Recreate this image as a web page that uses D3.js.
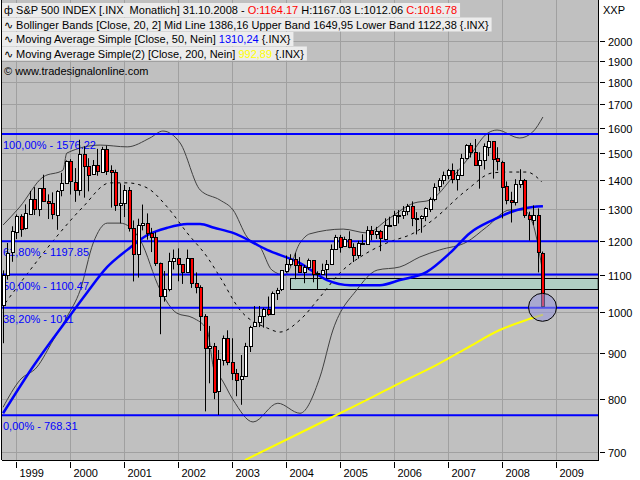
<!DOCTYPE html>
<html><head><meta charset="utf-8">
<script src="https://cdn.jsdelivr.net/npm/d3@7"></script>
<style>body{margin:0;background:#fff}svg{display:block}text{font-family:"Liberation Sans",Arial,sans-serif;font-size:11px}</style>
</head><body><svg id="c" width="640" height="480"></svg>
<script>
// Monthly candles Oct 1998 .. Oct 2008
const startYear = 1998.75;
const opens = [1017.1,1098.7,1163.6,1229.2,1279.6,1238.3,1286.4,1335.2,1301.8,1372.7,1328.7,1320.4,1282.7,1362.9,1388.9,
1469.3,1394.5,1366.4,1498.6,1452.4,1420.6,1454.6,1430.8,1517.7,1436.5,1429.4,1315.0,
1320.3,1366.0,1239.9,1160.3,1249.5,1255.8,1224.4,1211.2,1133.6,1040.9,1059.8,1139.5,
1148.1,1130.2,1106.7,1147.4,1076.9,1067.1,989.8,911.6,916.1,815.3,885.8,936.3,
879.8,855.7,841.2,848.2,916.9,963.6,974.5,990.3,1008.0,996.0,1050.7,1058.2,
1111.9,1131.1,1144.9,1126.2,1107.3,1120.7,1140.8,1101.7,1104.2,1114.6,1130.2,1173.8,
1211.9,1181.3,1203.6,1180.6,1156.9,1191.5,1191.3,1234.2,1220.3,1228.8,1207.0,1249.5,
1248.3,1280.1,1280.7,1294.9,1310.6,1270.1,1270.2,1276.7,1303.8,1335.9,1377.9,1400.6,
1418.3,1438.2,1406.8,1420.9,1482.4,1530.6,1503.4,1455.3,1474.0,1526.8,1549.4,1481.1,
1468.4,1378.6,1330.6,1322.7,1385.6,1400.4,1280.0,1267.4,1282.8,1164.17];
const highs = [1112.2,1193.0,1244.9,1283.0,1283.7,1316.6,1362.8,1375.9,1372.9,1420.3,1350.7,1357.7,1365.6,1427.0,1473.1,
1478.0,1444.5,1552.9,1527.2,1481.5,1474.6,1517.3,1525.2,1530.1,1454.8,1438.5,1389.1,
1383.4,1376.4,1263.5,1269.3,1316.0,1286.6,1239.8,1226.3,1134.6,1110.6,1163.4,1173.0,
1176.6,1130.2,1173.0,1147.8,1106.6,1070.7,994.5,965.0,924.0,907.4,941.8,954.3,
935.1,864.6,895.9,924.2,965.4,1015.3,1015.4,1011.0,1040.3,1053.8,1063.7,1112.0,
1155.4,1159.0,1163.2,1150.6,1127.7,1146.3,1140.8,1109.7,1131.5,1142.1,1188.5,1217.9,
1217.8,1212.4,1229.1,1191.9,1199.6,1219.6,1245.2,1245.9,1243.1,1233.3,1270.6,1275.8,
1294.9,1297.6,1310.9,1318.2,1326.7,1290.7,1280.4,1306.7,1340.3,1389.5,1407.9,1431.8,
1441.6,1461.6,1438.9,1498.0,1535.6,1540.6,1555.9,1503.9,1538.7,1576.1,1545.8,1523.6,
1471.8,1396.0,1359.7,1404.0,1440.2,1405.0,1292.2,1313.2,1303.0,1167.03];
const lows = [923.3,1086.0,1136.9,1205.0,1211.9,1234.7,1282.6,1281.4,1277.5,1328.5,1268.3,1267.5,1233.7,1344.0,1387.4,
1350.1,1325.1,1346.6,1339.4,1361.1,1420.6,1416.5,1428.1,1419.4,1305.8,1294.9,1254.1,
1274.6,1228.3,1081.2,1091.9,1232.0,1203.0,1165.5,1124.9,944.8,1026.8,1054.3,1114.9,
1081.7,1074.4,1106.7,1063.5,1048.9,952.9,775.7,833.4,800.2,768.6,872.1,872.9,
840.3,806.3,788.9,847.9,902.8,963.6,962.1,960.8,990.4,996.0,1031.2,1055.0,
1105.1,1124.4,1087.2,1107.2,1076.3,1113.3,1078.8,1060.7,1101.3,1090.2,1127.6,1173.8,
1163.8,1180.9,1176.9,1136.2,1146.2,1188.3,1191.3,1201.1,1205.4,1168.2,1201.1,1246.6,
1245.7,1253.6,1268.4,1280.7,1245.3,1219.3,1224.5,1261.3,1290.9,1327.1,1361.0,1385.9,
1404.0,1389.4,1364.0,1416.4,1476.7,1484.2,1454.3,1370.6,1439.3,1489.6,1406.1,1435.7,
1270.1,1316.8,1257.0,1312.8,1373.1,1272.0,1200.4,1248.6,1106.4,1012.06];
const closes = [1098.7,1163.6,1229.2,1279.6,1238.3,1286.4,1335.2,1301.8,1372.7,1328.7,1320.4,1282.7,1362.9,1388.9,1469.3,
1394.5,1366.4,1498.6,1452.4,1420.6,1454.6,1430.8,1517.7,1436.5,1429.4,1315.0,1320.3,
1366.0,1239.9,1160.3,1249.5,1255.8,1224.4,1211.2,1133.6,1040.9,1059.8,1139.5,1148.1,
1130.2,1106.7,1147.4,1076.9,1067.1,989.8,911.6,916.1,815.3,885.8,936.3,879.8,
855.7,841.2,848.2,916.9,963.6,974.5,990.3,1008.0,996.0,1050.7,1058.2,1111.9,
1131.1,1144.9,1126.2,1107.3,1120.7,1140.8,1101.7,1104.2,1114.6,1130.2,1173.8,1211.9,
1181.3,1203.6,1180.6,1156.9,1191.5,1191.3,1234.2,1220.3,1228.8,1207.0,1249.5,1248.3,
1280.1,1280.7,1294.9,1310.6,1270.1,1270.2,1276.7,1303.8,1335.9,1377.9,1400.6,1418.3,
1438.2,1406.8,1420.9,1482.4,1530.6,1503.4,1455.3,1474.0,1526.8,1549.4,1481.1,1468.4,
1378.6,1330.6,1322.7,1385.6,1400.4,1280.0,1267.4,1282.8,1166.4,1016.78];

// Indicator lines: [year, value]
const bbUpper = [[1998.76,1249],[1999.07,1308],[1999.50,1412],[1999.87,1437],[1999.94,1501],[2000.56,1532],[2001.06,1525],[2001.48,1560],[2001.72,1588],[2002.04,1540],[2002.41,1366],[2002.78,1331],[2003.02,1298],[2003.28,1211],[2003.52,1181],[2003.74,1113],[2003.98,1099],[2004.26,1193],[2004.44,1221],[2005.06,1236],[2005.50,1224],[2005.87,1265],[2006.37,1321],[2006.67,1331],[2007.09,1412],[2007.35,1474],[2007.74,1580],[2007.91,1592],[2008.33,1560],[2008.57,1584],[2008.76,1646]];
const bbMid = [[1998.80,1023],[1999.26,1113],[1999.81,1224],[2000.24,1308],[2000.74,1391],[2001.06,1391],[2001.43,1373],[2001.80,1308],[2002.17,1224],[2002.54,1151],[2002.78,1093],[2003.15,1005],[2003.65,960],[2003.89,950],[2004.26,980],[2004.63,1039],[2005.00,1105],[2005.50,1163],[2005.87,1193],[2006.37,1224],[2006.72,1265],[2007.35,1366],[2007.83,1427],[2008.15,1430],[2008.46,1430],[2008.74,1394]];
const bbLower = [[1998.76,784],[1999.07,840],[1999.39,869],[1999.69,931],[1999.94,987],[2000.19,1058],[2000.43,1193],[2000.69,1255],[2000.93,1255],[2001.30,1202],[2001.67,1058],[2001.98,997],[2002.28,985],[2002.54,955],[2002.67,862],[2002.78,847],[2003.02,799],[2003.39,755],[2003.85,792],[2004.26,772],[2004.63,847],[2004.87,955],[2005.31,1058],[2005.69,1113],[2006.11,1122],[2006.48,1151],[2006.85,1172],[2007.35,1196],[2007.72,1243],[2008.15,1298],[2008.39,1298],[2008.57,1255],[2008.74,1122]];
const ma50 = [[1998.76,772],[1999.31,869],[1999.94,980],[2000.31,1050],[2000.69,1122],[2001.06,1172],[2001.43,1217],[2001.80,1240],[2002.17,1252],[2002.41,1252],[2002.67,1240],[2003.02,1224],[2003.65,1172],[2004.26,1133],[2004.76,1085],[2005.19,1071],[2005.74,1071],[2006.11,1085],[2006.61,1108],[2007.04,1163],[2007.41,1224],[2007.83,1265],[2008.28,1298],[2008.57,1308],[2008.76,1310.24]];
const ma200 = [[2003.24,685],[2004.26,734],[2005.00,772],[2005.61,805],[2006.11,834],[2006.72,869],[2007.35,912],[2007.96,955],[2008.46,980],[2008.76,992.89]];
const fibLevels = [1576.22,1197.85,1100.47,1011,768.31];
const fibLabels = ["100,00% - 1576.22","61,80% - 1197.85","50,00% - 1100.47","38,20% - 1011","0,00% - 768.31"];
const zone = {from:2004.08, lo:1060, hi:1091};
const yTicks = [700,800,900,1000,1100,1200,1300,1400,1500,1600,1700,1800,1900,2000];
const years = [1999,2000,2001,2002,2003,2004,2005,2006,2007,2008,2009];

const L=2,R=598,T=0,B=460;
const svg=d3.select("#c");
const x=d3.scaleLinear().domain([1998.74,2009.78]).range([L,R]);
const y=d3.scaleLog().domain([1000*Math.pow(10,-148/901),1000*Math.pow(10,312/901)]).range([B,T]);
svg.append("rect").attr("x",L).attr("y",T).attr("width",R-L).attr("height",B-T).attr("fill","#c0c0c0");
svg.append("clipPath").attr("id","pc").append("rect").attr("x",L).attr("y",T).attr("width",R-L).attr("height",B-T);
const g=svg.append("g").attr("clip-path","url(#pc)");
g.selectAll(".hg").data(yTicks).join("line").attr("x1",L).attr("x2",R).attr("y1",d=>Math.round(y(d))+.5).attr("y2",d=>Math.round(y(d))+.5).attr("stroke","#a0a0a0");
g.selectAll(".vg").data(years).join("line").attr("y1",T).attr("y2",B).attr("x1",d=>Math.round(x(d))+.5).attr("x2",d=>Math.round(x(d))+.5).attr("stroke","#a0a0a0");
g.append("rect").attr("x",Math.round(x(zone.from))+.5).attr("y",Math.round(y(zone.hi))+.5).attr("width",R-x(zone.from)).attr("height",Math.round(y(zone.lo)-y(zone.hi))).attr("fill","#b0cfc4").attr("stroke","#000").attr("stroke-width",1);
const line=d3.line().x(d=>x(d[0])).y(d=>y(d[1])).curve(d3.curveMonotoneX);
g.append("path").attr("d",line(bbUpper)).attr("fill","none").attr("stroke","#404040").attr("stroke-width",1);
g.append("path").attr("d",line(bbLower)).attr("fill","none").attr("stroke","#404040").attr("stroke-width",1);
g.append("path").attr("d",line(bbMid)).attr("fill","none").attr("stroke","#000").attr("stroke-width",1).attr("stroke-dasharray","3,4");
g.selectAll(".fl").data(fibLevels).join("line").attr("x1",L).attr("x2",R).attr("y1",d=>y(d)).attr("y2",d=>y(d)).attr("stroke","#0000ff").attr("stroke-width",2);
g.selectAll(".ft").data(fibLevels).join("text").attr("x",3).attr("y",d=>y(d)+15).attr("fill","#0000ff").text((d,i)=>fibLabels[i]);
g.append("path").attr("d",line(ma200)).attr("fill","none").attr("stroke","#ffff00").attr("stroke-width",2);
g.append("path").attr("d",line(ma50)).attr("fill","none").attr("stroke","#0000ff").attr("stroke-width",2.5);
const idx=d3.range(closes.length);
const cx=i=>Math.round(x(startYear+i/12));
g.selectAll(".wk").data(idx).join("line").attr("x1",i=>cx(i)+.5).attr("x2",i=>cx(i)+.5).attr("y1",i=>y(highs[i])).attr("y2",i=>y(lows[i])).attr("stroke","#000");
g.selectAll(".bd").data(idx).join("rect").attr("x",i=>cx(i)-1+.5).attr("width",3)
 .attr("y",i=>Math.round(y(Math.max(opens[i],closes[i])))+.5).attr("height",i=>Math.max(1,Math.round(y(Math.min(opens[i],closes[i]))-y(Math.max(opens[i],closes[i])))))
 .attr("fill",i=>closes[i]<opens[i]?"#ff0000":"#ffffff").attr("stroke","#000").attr("stroke-width",1);
const li=closes.length-1;
g.append("circle").attr("cx",cx(li)+.5).attr("cy",y(lows[li])).attr("r",14).attr("fill","rgba(150,150,220,0.55)").attr("stroke","#000");
svg.append("line").attr("x1",1.5).attr("x2",1.5).attr("y1",0).attr("y2",B).attr("stroke","#000");
svg.append("line").attr("x1",L).attr("x2",R+1).attr("y1",B+.5).attr("y2",B+.5).attr("stroke","#000");
svg.append("line").attr("x1",R+.5).attr("x2",R+.5).attr("y1",0).attr("y2",B).attr("stroke","#000");
const ya=svg.append("g");
yTicks.forEach(v=>{const yy=Math.round(y(v))+.5;
 ya.append("line").attr("x1",R+2).attr("x2",R+7).attr("y1",yy).attr("y2",yy).attr("stroke","#000");
 ya.append("text").attr("x",R+10).attr("y",yy+4).text(v);});
svg.append("text").attr("x",603).attr("y",14).attr("font-size","12px").text("XXP");
years.forEach(v=>{const xx=Math.round(x(v))+.5;
 svg.append("line").attr("x1",xx).attr("x2",xx).attr("y1",B+2).attr("y2",B+8).attr("stroke","#000");
 svg.append("text").attr("x",xx+3).attr("y",B+17).text(v);});
const leg=[
 [["ф ","#000"],["S&P 500 INDEX [.INX  Monatlich] 31.10.2008 - ","#000"],["O:1164.17","#ff0000"],[" H:1167.03 L:1012.06 ","#000"],["C:1016.78","#ff0000"]],
 [["∿ ","#000"],["Bollinger Bands [Close, 20, 2] Mid Line 1386,16 Upper Band 1649,95 Lower Band 1122,38 {.INX}","#000"]],
 [["∿ ","#000"],["Moving Average Simple [Close, 50, Nein] ","#000"],["1310,24","#0000ff"],[" {.INX}","#000"]],
 [["∿ ","#000"],["Moving Average Simple(2) [Close, 200, Nein] ","#000"],["992,89","#ffff00"],[" {.INX}","#000"]]
];
leg.forEach((parts,k)=>{
 const gy=3+k*14.5;
 const bg=svg.append("rect").attr("x",2).attr("y",gy).attr("height",14).attr("fill","#ececec");
 const t=svg.append("text").attr("x",4).attr("y",gy+11).attr("xml:space","preserve");
 parts.forEach(p=>t.append("tspan").attr("fill",p[1]).text(p[0]));
 bg.attr("width",t.node().getComputedTextLength()+5);
});
svg.append("text").attr("x",4).attr("y",75).text("© www.tradesignalonline.com");
</script></body></html>
